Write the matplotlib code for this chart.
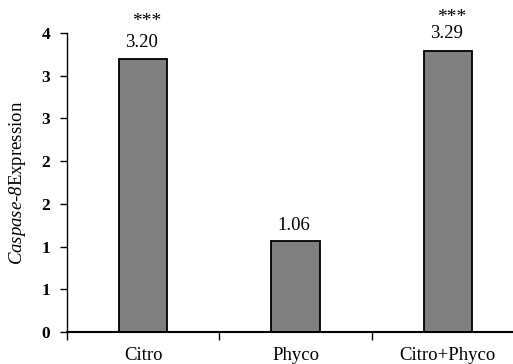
import matplotlib
matplotlib.use("Agg")
import matplotlib.pyplot as plt
import numpy as np

categories = ["Citro", "Phyco", "Citro+Phyco"]
values = [3.20, 1.06, 3.29]
value_labels = ["3.20", "1.06", "3.29"]
stars = ["***", "", "***"]
ytick_pos = [0, 0.5, 1.0, 1.5, 2.0, 2.5, 3.0, 3.5]
ytick_labels = ["0", "1", "1", "2", "2", "3", "3", "4"]

# label offsets above each bar (points)
num_off = [8.6, 8.6, 9.5]
star_off = [27, 0, 24]

plt.rcParams["font.family"] = ["Liberation Serif", "DejaVu Serif"]
plt.rcParams["mathtext.fontset"] = "custom"
plt.rcParams["mathtext.rm"] = "Liberation Serif"
plt.rcParams["mathtext.sf"] = "Liberation Serif:italic"

fig = plt.figure(figsize=(5.13, 3.64), dpi=100)
ax = fig.add_axes([67 / 513, 1 - 332 / 364, 457 / 513, 299 / 364])

x = np.arange(len(categories))
ax.bar(x, values, width=0.316, color="#808080", edgecolor="black", linewidth=1.3, zorder=2)

for xi, v, lab, s, no, so in zip(x, values, value_labels, stars, num_off, star_off):
    ax.annotate(lab, (xi, v), xytext=(-1, no), textcoords="offset points",
                ha="center", va="baseline", fontsize=13.5)
    if s:
        ax.annotate(s, (xi, v), xytext=(2.5, so), textcoords="offset points",
                    ha="center", va="center", fontsize=14)

ax.set_xlim(-0.5, 2.5)
ax.set_ylim(0, 3.5)
ax.set_yticks(ytick_pos)
ax.set_yticklabels(ytick_labels, fontweight="bold", fontsize=12.5)
ax.set_xticks(x)
ax.set_xticklabels(categories, fontsize=13.5)
ax.tick_params(axis="x", length=0, pad=11)
ax.set_xticks([-0.5, 0.5, 1.5, 2.5], minor=True)
ax.tick_params(axis="x", which="minor", length=6, width=1, direction="out")
ax.tick_params(axis="y", length=5, width=1, direction="out", pad=7)

for side in ["top", "right"]:
    ax.spines[side].set_visible(False)
ax.spines["left"].set_linewidth(1)
ax.spines["bottom"].set_linewidth(1.5)

ax.set_ylabel(r"$\mathsf{Caspase}$-$\mathsf{8}$Expression", fontsize=13.5, labelpad=10)

fig.savefig("out.png", dpi=100)
